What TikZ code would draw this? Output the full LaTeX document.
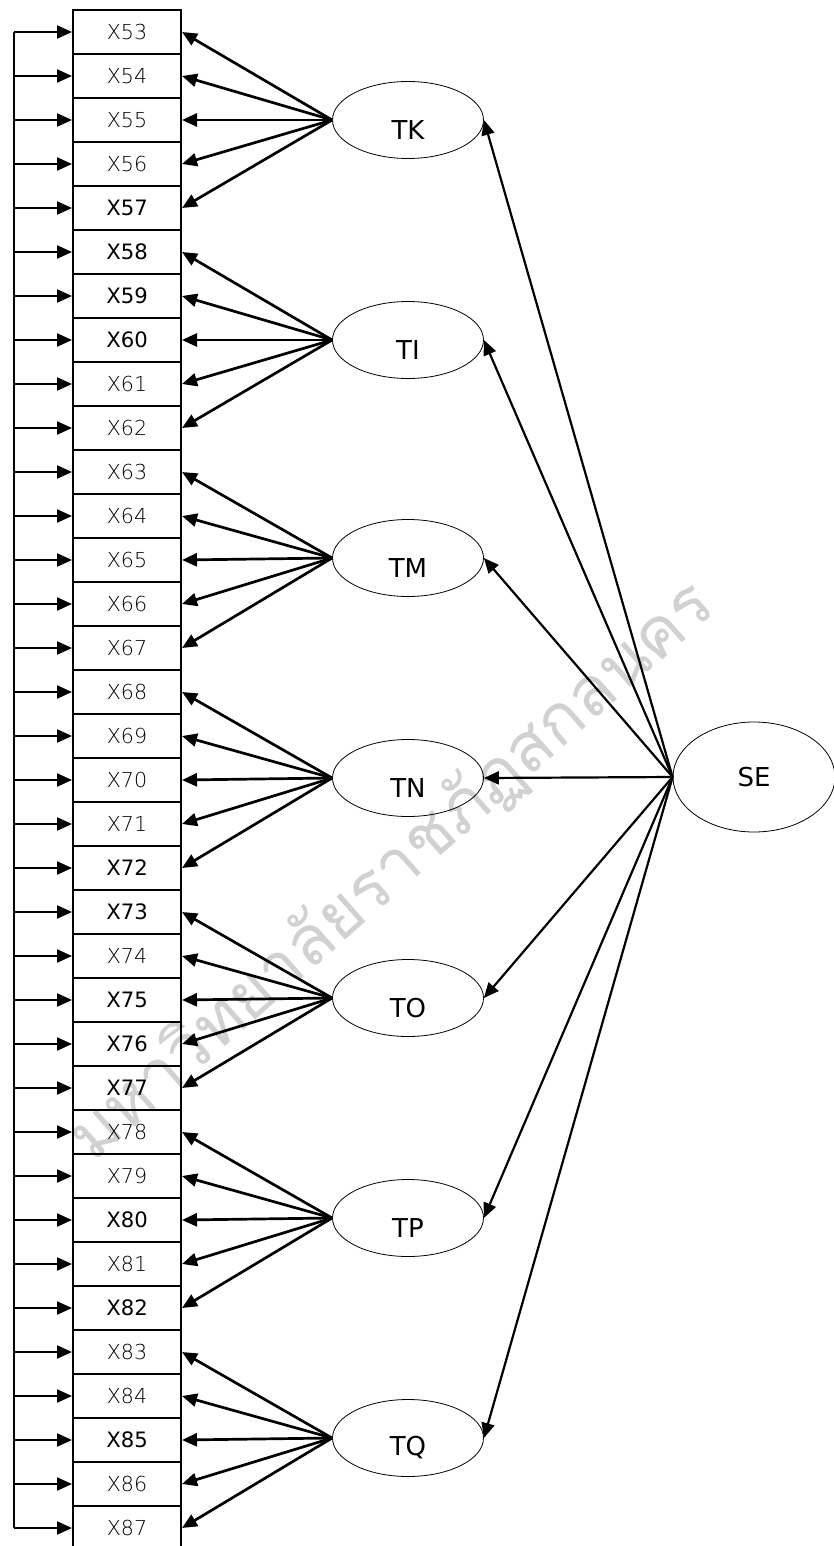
\documentclass[tikz,border=0pt]{standalone}
\usepackage{fontspec}
\setmainfont{DejaVu Sans}
\newfontfamily\thinfont{DejaVuSans-ExtraLight.ttf}
\newfontfamily\thaifont[Script=Thai]{Loma}
\usetikzlibrary{arrows.meta,shapes.geometric}

\tikzset{
  obs/.style={draw, line width=1pt, minimum width=54pt, minimum height=22pt, inner sep=0pt,
    font=\thinfont\fontsize{10.3}{12}\selectfont},
  obsb/.style={obs, font=\fontsize{10.6}{12}\selectfont},
  lat/.style={draw, ellipse, line width=0.4pt, minimum width=75.5pt, minimum height=38.5pt, inner sep=0pt},
  latlab/.style={inner sep=0pt, font=\fontsize{13}{15}\selectfont},
  load/.style={-{Triangle[length=7.5pt,width=6.5pt]}, line width=1.35pt},
  err/.style={-{Triangle[length=7.5pt,width=6.5pt]}, line width=1.1pt}
}

\begin{document}
\begin{tikzpicture}[x=0.5pt,y=-0.5pt]
        \useasboundingbox (0,0) rectangle (834,1546);
        \clip (0,0) rectangle (834,1546);
        % watermark
        \node[rotate=41.5, text=black!18, font=\thaifont\fontsize{34}{36}\selectfont] (wm) at (392,872)
            {มหาวิทยาลัยราชภัฏสกลนคร};
        % observed variables
        \foreach \n/\st in {53/obs,54/obs,55/obs,56/obs,57/obsb,58/obsb,59/obsb,60/obsb,61/obs,62/obs,
                            63/obs,64/obs,65/obs,66/obs,67/obs,68/obs,69/obs,70/obs,71/obs,72/obsb,
                            73/obsb,74/obs,75/obsb,76/obsb,77/obsb,78/obs,79/obs,80/obsb,81/obs,82/obsb,
                            83/obs,84/obs,85/obsb,86/obs,87/obs} {
            \node[\st] (x\n) at (127,{32+44*(\n-53)}) {X\n};
            \coordinate (e\n) at (14,{32+44*(\n-53)});
            \draw[err] (e\n) -- (x\n.west);
        }
        \draw[line width=0.9pt] (e53) -- (e87);
        % factors
        \foreach \nm/\lab/\y in {ftk/TK/120, fti/TI/340, ftm/TM/558, ftn/TN/778, fto/TO/998, ftp/TP/1218, ftq/TQ/1438} {
            \node[lat] (\nm) at (408,\y) {};
            \node[latlab] (\nm l) at ([yshift=-5pt]\nm.center) {\lab};
        }
        \node[lat, minimum width=81pt, minimum height=55pt] (se) at (754,777) {\fontsize{13}{15}\selectfont SE};
        % loadings
        \foreach \nm/\f in {ftk/53, fti/58, ftm/63, ftn/68, fto/73, ftp/78, ftq/83}
            \foreach \k in {0,...,4} {
                \pgfmathtruncatemacro\n{\f+\k}
                \draw[load] (\nm.west) -- (x\n.east);
            }
        \foreach \nm in {ftk, fti, ftm, ftn, fto, ftp, ftq}
            \draw[err] (se.west) -- (\nm.east);
    \end{tikzpicture}
\end{document}
